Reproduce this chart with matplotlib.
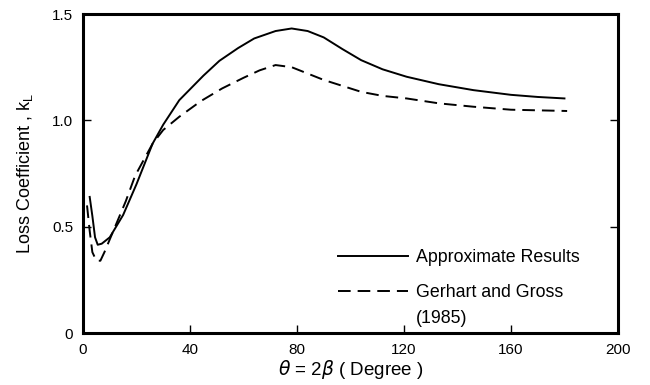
import matplotlib.pyplot as plt
from matplotlib.lines import Line2D

plt.rcParams['font.family'] = ['Liberation Sans', 'DejaVu Sans']

# approximate results (solid)
approx_x = [2.5, 3.5, 4.5, 5.5, 7, 10, 15, 20, 26, 30, 36, 45, 51, 58, 64, 72, 78,
            84, 90, 97, 104, 112, 121, 133, 146, 160, 170, 180]
approx_y = [0.64, 0.55, 0.45, 0.415, 0.42, 0.45, 0.555, 0.70, 0.89, 0.98, 1.095, 1.21,
            1.28, 1.34, 1.385, 1.42, 1.432, 1.42, 1.39, 1.335, 1.283, 1.24, 1.205,
            1.17, 1.142, 1.12, 1.11, 1.103]

# Gerhart and Gross (1985) (dashed)
gg_x = [1.5, 2.5, 3.5, 5, 6.5, 8, 10, 13, 16, 19.5, 26, 30, 36, 44, 52, 60, 66, 72,
        78, 84, 90, 96, 104, 112, 121, 133, 146, 160, 181]
gg_y = [0.60, 0.48, 0.38, 0.34, 0.34, 0.38, 0.44, 0.53, 0.62, 0.74, 0.89, 0.955, 1.017,
        1.09, 1.15, 1.20, 1.235, 1.26, 1.25, 1.22, 1.19, 1.166, 1.134, 1.115, 1.103,
        1.08, 1.064, 1.05, 1.044]

xticks = [0, 40, 80, 120, 160, 200]
yticks = [0, 0.5, 1.0, 1.5]
ytick_labels = ['0', '0.5', '1.0', '1.5']

fig = plt.figure(figsize=(6.5, 3.85), dpi=100)
ax = fig.add_axes([0.1277, 0.135, 0.823, 0.8286])

ax.plot(approx_x, approx_y, color='black', lw=1.4)
ax.plot(gg_x, gg_y, color='black', lw=1.4, dashes=(6.5, 3.6))

ax.set_xlim(0, 200)
ax.set_ylim(0, 1.5)
ax.set_xticks(xticks)
ax.set_yticks(yticks)
ax.set_yticklabels(ytick_labels)
ax.tick_params(direction='in', length=6, width=1, labelsize=11, pad=7,
               right=True, top=False)
for s in ax.spines.values():
    s.set_linewidth(2.2)

ax.set_xlabel(r'$\theta$ = 2$\beta$ ( Degree )', fontsize=13.5, labelpad=1)
ax.set_ylabel(r'Loss Coefficient , k$_\mathregular{L}$', fontsize=13, labelpad=12)

handles = [Line2D([], [], color='black', lw=1.4),
           Line2D([], [], color='black', lw=1.4, dashes=(6.5, 3.6))]
ax.legend(handles, ['Approximate Results', 'Gerhart and Gross'],
          loc='upper left', bbox_to_anchor=(0.477, 0.262), frameon=False,
          fontsize=12.8, handlelength=3.9, handletextpad=0.45, labelspacing=1.0,
          borderpad=0, borderaxespad=0)
ax.text(0.622, 0.047, '(1985)', transform=ax.transAxes, fontsize=12.8, va='center')

fig.savefig('out.png', dpi=100)
